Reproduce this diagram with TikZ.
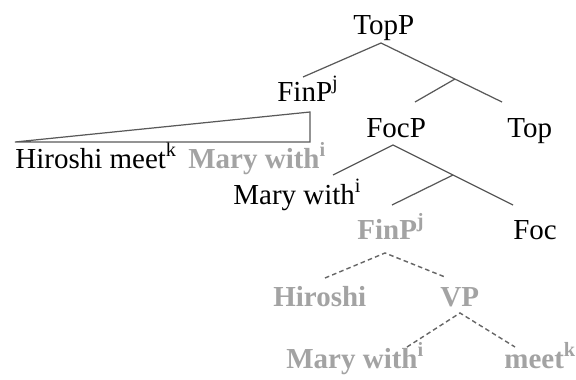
\documentclass[tikz,border=0pt]{standalone}
\usepackage{fontspec}
\setmainfont{Liberation Serif}
\usepackage{tikz}
\usepackage{xcolor}
\definecolor{ghost}{RGB}{163,163,163}

\begin{document}
\begin{tikzpicture}[
	lbl/.style={anchor=base west, inner sep=0pt, font=\fontsize{16.5}{19}\selectfont},
	gry/.style={lbl, text=ghost, font=\fontsize{16.5}{19}\selectfont\bfseries},
	br/.style={draw=black!65, line width=0.7pt},
	trc/.style={br, draw=black!60, line width=0.8pt, dash pattern=on 2.6pt off 1.8pt}]
		\useasboundingbox (0,0) rectangle (11.52,7.58);
		% LABELS
		\node [lbl] (topp) at (7.06,6.90) {TopP};
		\node [lbl] (finp) at (5.54,5.56) {FinP\textsuperscript{j}};
		\node [lbl] (focp) at (7.32,4.84) {FocP};
		\node [lbl] (top) at (10.14,4.84) {Top};
		\node [lbl] (himeet) at (0.30,4.22) {Hiroshi meet\textsuperscript{k}};
		\node [gry] (mwcopy) at (3.76,4.22) {Mary with\textsuperscript{i}};
		\node [lbl] (marywith) at (4.66,3.50) {Mary with\textsuperscript{i}};
		\node [gry] (finplow) at (7.14,2.80) {FinP\textsuperscript{j}};
		\node [lbl] (foc) at (10.26,2.80) {Foc};
		\node [gry] (hiroshi) at (5.46,1.46) {Hiroshi};
		\node [gry] (vp) at (8.80,1.46) {VP};
		\node [gry] (mwlow) at (5.72,0.22) {Mary with\textsuperscript{i}};
		\node [gry] (meet) at (10.08,0.22) {meet\textsuperscript{k}};
		% BRANCH POINTS
		\coordinate (toptip) at (7.62,6.72);
		\coordinate (topl) at (6.06,6.04);
		\coordinate (topr) at (10.04,5.54);
		\coordinate (topbar) at (9.10,6.00);
		\coordinate (topbarl) at (8.30,5.54);
		\coordinate (tria) at (6.20,5.34);
		\coordinate (trib) at (0.30,4.74);
		\coordinate (tric) at (6.20,4.74);
		\coordinate (foctip) at (7.86,4.68);
		\coordinate (focl) at (6.66,4.08);
		\coordinate (focr) at (10.26,3.48);
		\coordinate (focbar) at (9.06,4.08);
		\coordinate (focbarl) at (7.84,3.48);
		\coordinate (fintip) at (7.70,2.52);
		\coordinate (finl) at (6.50,2.02);
		\coordinate (finr) at (8.90,2.04);
		\coordinate (vptip) at (9.20,1.32);
		\coordinate (vpl) at (8.14,0.64);
		\coordinate (vpr) at (10.30,0.64);
		% TREE
		\draw [br] (topl) -- (toptip) -- (topr);
		\draw [br] (topbar) -- (topbarl);
		\draw [br] (tria) -- (trib) -- (tric) -- cycle;
		\draw [br] (focl) -- (foctip) -- (focr);
		\draw [br] (focbar) -- (focbarl);
		\draw [trc] (finl) -- (fintip) -- (finr);
		\draw [trc] (vpl) -- (vptip) -- (vpr);
\end{tikzpicture}
\end{document}
